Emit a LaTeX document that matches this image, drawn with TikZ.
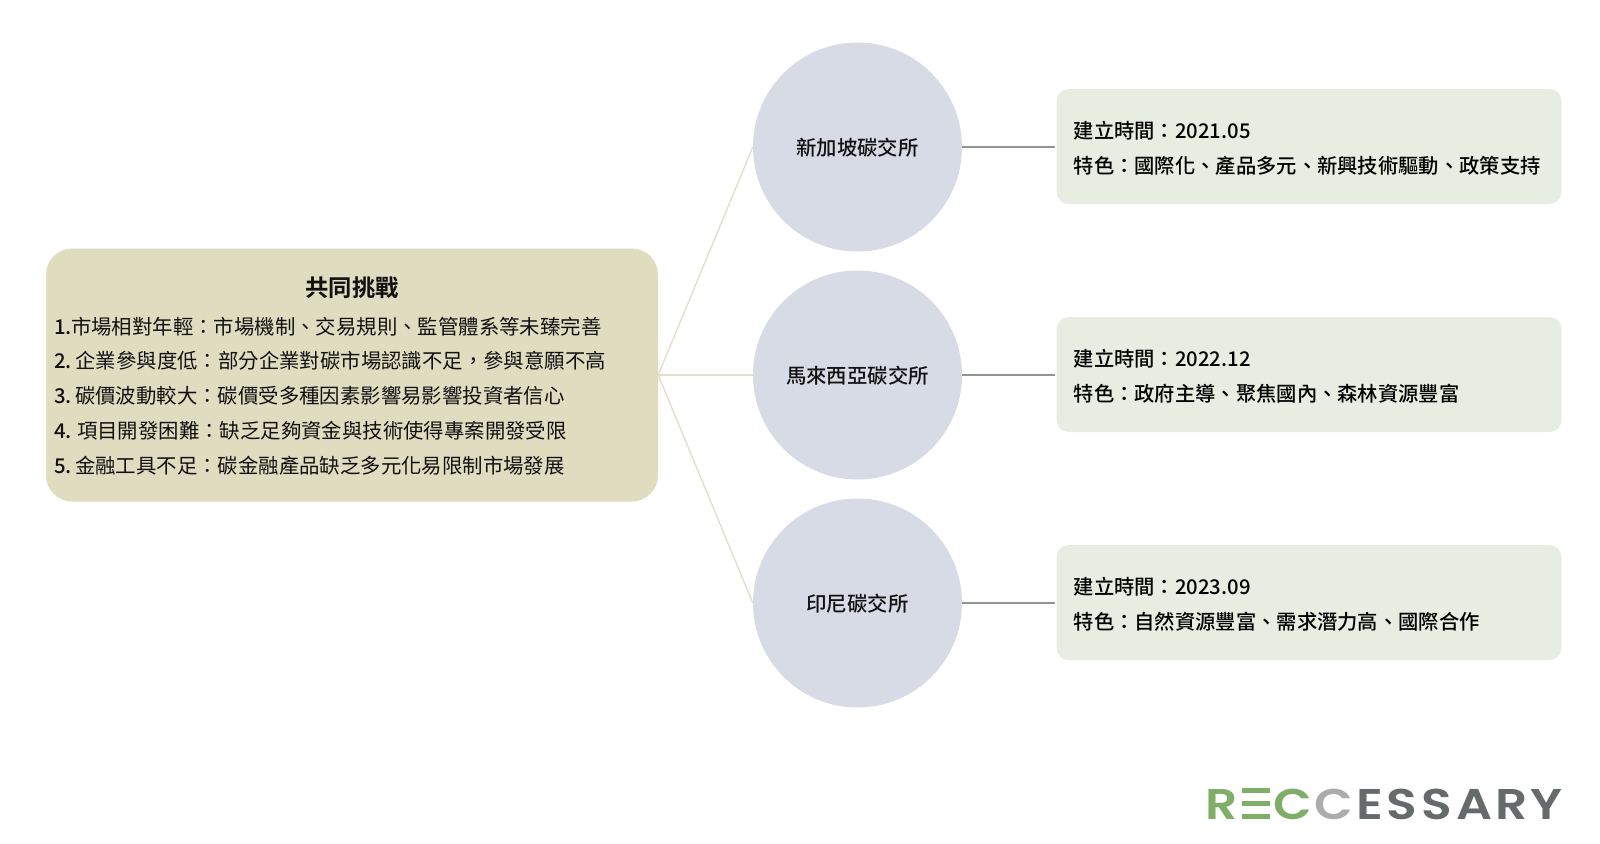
\documentclass[tikz,border=0pt]{standalone}
\usepackage{fontspec}
\newfontfamily\tcreg{Noto Sans CJK TC}
\newfontfamily\tcmed{Noto Sans CJK TC Medium}
\newfontfamily\tcbold{Noto Sans CJK TC Bold}
\newfontfamily\logofont[FakeStretch=1.17]{Poppins SemiBold}
\definecolor{boxA}{HTML}{DFDCC0}
\definecolor{circ}{HTML}{D7DBE5}
\definecolor{boxB}{HTML}{E7EDE1}
\definecolor{lineA}{HTML}{E3E0C8}
\definecolor{lineB}{HTML}{8F9496}
\definecolor{lgreen}{HTML}{7FAE68}
\definecolor{lgrey}{HTML}{ACACAC}
\definecolor{ldark}{HTML}{666A6A}
\definecolor{ink}{HTML}{111111}
\tikzset{
  x=1pt,y=-1pt,
  panel/.style={fill=boxA,rounded corners=26pt,inner sep=0pt,minimum width=612pt,minimum height=253pt},
  market/.style={circle,fill=circ,inner sep=0pt,minimum size=209pt,text=ink,text height=18pt,text depth=0.6pt,font=\tcmed\fontsize{20.4}{24}\selectfont},
  info/.style={fill=boxB,rounded corners=12pt,inner sep=0pt,minimum width=505pt,minimum height=115pt},
  leftline/.style={anchor=base west,inner sep=0pt,text=ink,font=\tcreg\fontsize{20.4}{24}\selectfont},
  rightline/.style={anchor=base west,inner sep=0pt,text=black,font=\tcmed\fontsize{20.3}{24}\selectfont},
  title/.style={inner sep=0pt,text=ink,font=\tcbold\fontsize{23.3}{26}\selectfont},
  link/.style={draw=lineA,line width=1.4pt},
  feed/.style={draw=lineB,line width=1.4pt},
}
\newcommand{\logobars}{\textcolor{lgreen}{\rlap{\rule[0pt]{28.5pt}{4.6pt}}\rlap{\rule[13pt]{28.5pt}{4.6pt}}\rule[26.4pt]{28.5pt}{4.6pt}}}
\newcommand{\num}[2]{{\tcmed #1}{\kern#2pt}}
\begin{document}
\begin{tikzpicture}
\useasboundingbox (0,0) rectangle (1600,843);
\node[panel] (p) at (352,375) {};
\node[market] (c1) at (857.5,147) {新加坡碳交所};
\node[market] (c2) at (857.5,375) {馬來西亞碳交所};
\node[market] (c3) at (857.5,603) {印尼碳交所};
\node[info] (i1) at (1309,146.5) {};
\node[info] (i2) at (1309,374.5) {};
\node[info] (i3) at (1309,602.5) {};
\draw[link] (p.east) -- (c1.west);
\draw[link] (p.east) -- (c2.west);
\draw[link] (p.east) -- (c3.west);
\draw[feed] (c1.east) -- ([xshift=-1pt]c1.east -| i1.west);
\draw[feed] (c2.east) -- ([xshift=-1pt]c2.east -| i2.west);
\draw[feed] (c3.east) -- ([xshift=-1pt]c3.east -| i3.west);
\node[title] (t) at (352,287.5) {共同挑戰};
\node[leftline] (l1) at (54,334) {\num{1.}{-7} 市場相對年輕：市場機制、交易規則、監管體系等未臻完善};
\node[leftline] (l2) at (54,368.5) {\num{2.}{-2.5} 企業參與度低：部分企業對碳市場認識不足，參與意願不高};
\node[leftline] (l3) at (54,403.5) {\num{3.}{-3} 碳價波動較大：碳價受多種因素影響易影響投資者信心};
\node[leftline] (l4) at (54,438.5) {\num{4.}{-1} 項目開發困難：缺乏足夠資金與技術使得專案開發受限};
\node[leftline] (l5) at (54,473.5) {\num{5.}{-3} 金融工具不足：碳金融產品缺乏多元化易限制市場發展};
\node[rightline] (a1) at (1073.5,138) {建立時間：2021.05};
\node[rightline] (b1) at (1073.5,173.5) {特色：國際化、產品多元、新興技術驅動、政策支持};
\node[rightline] (a2) at (1073.5,366) {建立時間：2022.12};
\node[rightline] (b2) at (1073.5,401.5) {特色：政府主導、聚焦國內、森林資源豐富};
\node[rightline] (a3) at (1073.5,594) {建立時間：2023.09};
\node[rightline] (b3) at (1073.5,629.5) {特色：自然資源豐富、需求潛力高、國際合作};
\node[anchor=base west,inner sep=0pt,font=\logofont\fontsize{43}{50}\selectfont] (logo) at (1205,819)
  {\textcolor{lgreen}{R}\kern4.5pt\logobars\kern3.5pt\textcolor{lgreen}{C}\kern1.5pt\textcolor{lgrey}{C}\kern3.5pt\textcolor{ldark}{E\kern4pt S\kern4pt S\kern4pt A\kern3.5pt R\kern2.5pt Y}};
\end{tikzpicture}
\end{document}
